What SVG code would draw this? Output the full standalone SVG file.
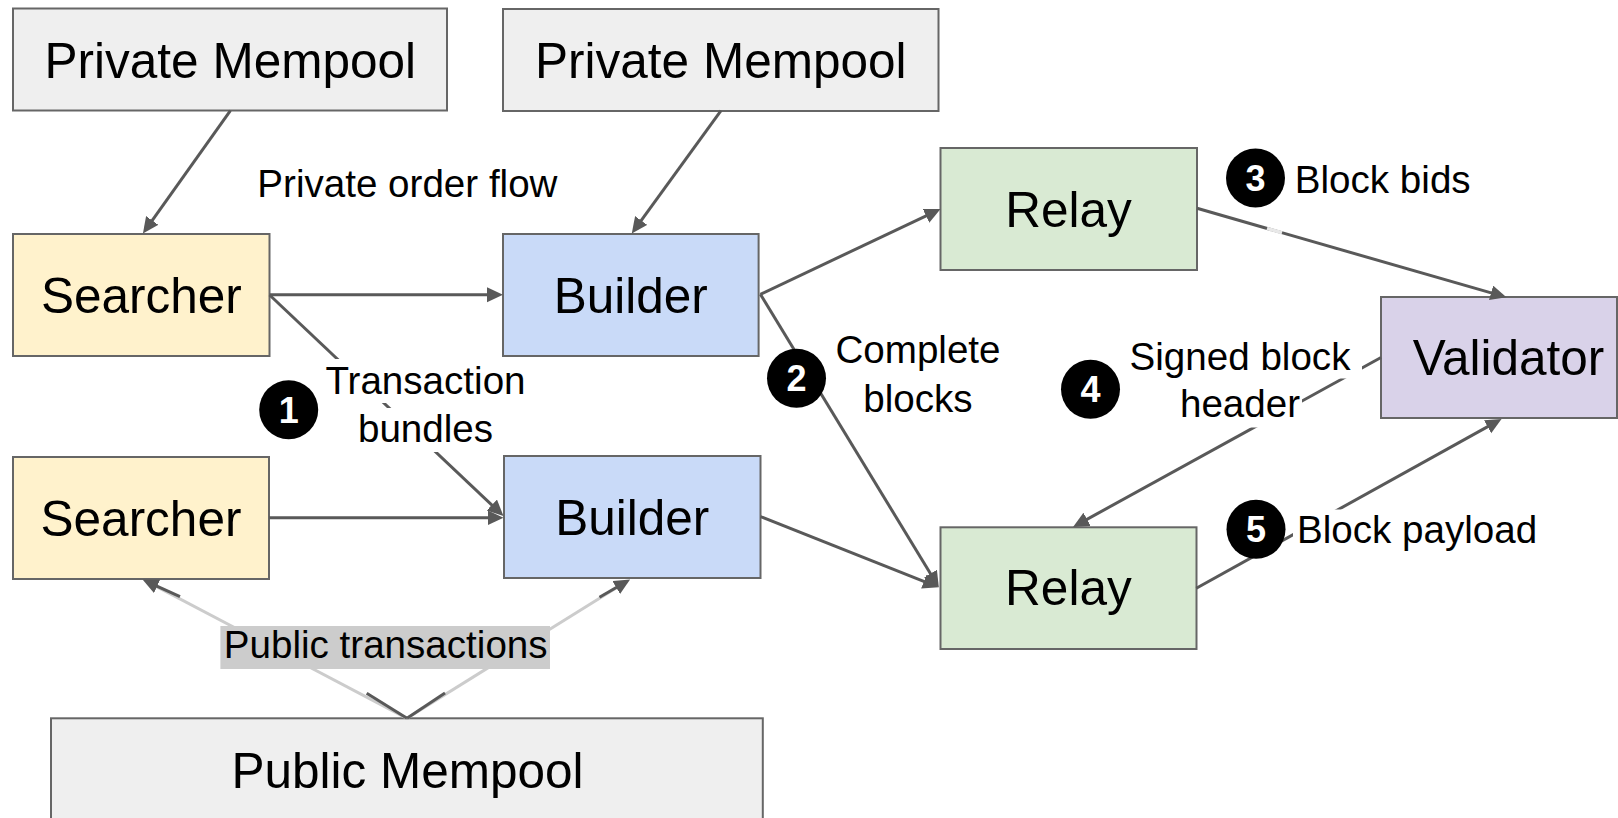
<svg xmlns="http://www.w3.org/2000/svg" width="1618" height="818" viewBox="0 0 1618 818">
  <style>
    .box { stroke: #666666; stroke-width: 2; }
    .mempool { fill: #efefef; }
    .searcher { fill: #fff2cc; }
    .builder { fill: #c9daf8; }
    .relay { fill: #d9ead3; }
    .validator { fill: #d9d2e9; }
    .title { font-family: "Liberation Sans", Arial, sans-serif; font-size: 49.5px; fill: #000000; text-anchor: middle; }
    .label { font-family: "Liberation Sans", Arial, sans-serif; font-size: 38.6px; fill: #000000; }
    .mid { text-anchor: middle; }
    .edge { fill: none; stroke: #595959; stroke-width: 3; }
    .faint { fill: none; stroke: #cccccc; stroke-width: 3; }
    .bg { fill: #ffffff; }
    .badge { fill: #000000; }
    .num { font-family: "Liberation Sans", Arial, sans-serif; font-size: 36px; font-weight: bold; fill: #ffffff; text-anchor: middle; }
  </style>
  <defs>
    <marker id="arrow" markerUnits="userSpaceOnUse" markerWidth="17" markerHeight="16" refX="10" refY="7.5" orient="auto">
      <path d="M0,0 L16,7.5 L0,15 z" fill="#595959"/>
    </marker>
  </defs>

  <rect width="1618" height="818" fill="#ffffff"/>

  <!-- nodes -->
  <g id="private-mempool-1">
    <rect class="box mempool" x="13" y="8.5" width="434" height="102"/>
    <text class="title" x="230.3" y="78.3">Private Mempool</text>
  </g>
  <g id="private-mempool-2">
    <rect class="box mempool" x="503" y="9" width="435.5" height="102"/>
    <text class="title" x="720.8" y="78.3">Private Mempool</text>
  </g>
  <g id="searcher-1">
    <rect class="box searcher" x="13" y="234" width="256.5" height="122"/>
    <text class="title" x="141.4" y="313.3">Searcher</text>
  </g>
  <g id="builder-1">
    <rect class="box builder" x="503" y="234" width="255.6" height="122"/>
    <text class="title" x="630.8" y="313.3">Builder</text>
  </g>
  <g id="searcher-2">
    <rect class="box searcher" x="13" y="457" width="256" height="122"/>
    <text class="title" x="141" y="535.5">Searcher</text>
  </g>
  <g id="builder-2">
    <rect class="box builder" x="504" y="456" width="256.5" height="122"/>
    <text class="title" x="632.3" y="535.3">Builder</text>
  </g>
  <g id="relay-1">
    <rect class="box relay" x="940.5" y="148" width="256.5" height="122"/>
    <text class="title" x="1068.5" y="227.3">Relay</text>
  </g>
  <g id="relay-2">
    <rect class="box relay" x="940.5" y="527.3" width="256" height="121.7"/>
    <text class="title" x="1068.4" y="605">Relay</text>
  </g>
  <g id="validator">
    <rect class="box validator" x="1381" y="297" width="236" height="121"/>
    <text class="title" x="1508.5" y="375">Validator</text>
  </g>
  <g id="public-mempool">
    <rect class="box mempool" x="51" y="718.3" width="711.8" height="102"/>
    <text class="title" x="407.5" y="787.7">Public Mempool</text>
  </g>

  <!-- connectors -->
  <g id="connectors">
    <line class="edge" x1="230.4" y1="110.7" x2="146.4" y2="228.6" marker-end="url(#arrow)"/>
    <line class="edge" x1="721" y1="110.7" x2="635.3" y2="228.6" marker-end="url(#arrow)"/>
    <line class="edge" x1="269.6" y1="294.7" x2="497" y2="294.7" marker-end="url(#arrow)"/>
    <line class="edge" x1="269.6" y1="295" x2="499.1" y2="511.9" marker-end="url(#arrow)"/>
    <line class="edge" x1="269" y1="517.7" x2="497.5" y2="517.7" marker-end="url(#arrow)"/>
    <line class="edge" x1="760.4" y1="294.3" x2="935.1" y2="211.6" marker-end="url(#arrow)"/>
    <line class="edge" x1="760.4" y1="294.3" x2="935.7" y2="582.2" marker-end="url(#arrow)"/>
    <line class="edge" x1="760.7" y1="516.7" x2="933.2" y2="585.1" marker-end="url(#arrow)"/>
    <line class="edge" x1="1197" y1="208.3" x2="1500.7" y2="295.6" marker-end="url(#arrow)"/>
    <line x1="1267" y1="228.4" x2="1282" y2="232.7" stroke="#e8e8e8" stroke-width="3.5"/>
    <line class="edge" x1="1381" y1="357.5" x2="1078.3" y2="524.1" marker-end="url(#arrow)"/>
    <line class="edge" x1="1196.3" y1="588.3" x2="1496.3" y2="421.9" marker-end="url(#arrow)"/>
    <!-- public transactions: pale middle, dark ends -->
    <line class="faint" x1="407" y1="718.3" x2="148" y2="582.1"/>
    <line class="faint" x1="407" y1="718.3" x2="624.9" y2="582.5"/>
    <line class="edge" x1="407" y1="718.3" x2="366.7" y2="693.3"/>
    <line class="edge" x1="407" y1="718.3" x2="445" y2="693"/>
    <line class="edge" x1="180" y1="596.7" x2="148" y2="582.1" marker-end="url(#arrow)"/>
    <line class="edge" x1="599.5" y1="597.3" x2="624.9" y2="582.5" marker-end="url(#arrow)"/>
  </g>

  <!-- labels -->
  <g id="labels">
    <text class="label mid" x="407.4" y="197">Private order flow</text>

    <rect class="bg" x="322" y="359" width="208" height="44"/>
    <rect class="bg" x="352" y="408" width="145" height="44"/>
    <text class="label mid" x="425.5" y="394.3">Transaction</text>
    <text class="label mid" x="425.5" y="441.7">bundles</text>

    <text class="label mid" x="918" y="363.3">Complete</text>
    <text class="label mid" x="918" y="411.7">blocks</text>

    <text class="label" x="1294.8" y="193.3">Block bids</text>

    <rect class="bg" x="1125" y="334" width="237" height="44.5"/>
    <rect class="bg" x="1176" y="384" width="126" height="43.5"/>
    <text class="label mid" x="1240" y="370">Signed block</text>
    <text class="label mid" x="1240" y="417.3">header</text>

    <rect class="bg" x="1293" y="509.5" width="248" height="43.5"/>
    <text class="label" x="1297" y="543.3">Block payload</text>

    <rect x="220.4" y="626" width="329.6" height="43" fill="#cccccc"/>
    <text class="label mid" x="385.7" y="657.7">Public transactions</text>
  </g>

  <!-- step badges -->
  <g id="badge-1">
    <circle class="badge" cx="288.7" cy="409.7" r="29.5"/>
    <text class="num" x="288.7" y="422.7">1</text>
  </g>
  <g id="badge-2">
    <circle class="badge" cx="796.5" cy="378.3" r="29.5"/>
    <text class="num" x="796.5" y="391.3">2</text>
  </g>
  <g id="badge-3">
    <circle class="badge" cx="1255.5" cy="178" r="29.5"/>
    <text class="num" x="1255.5" y="191">3</text>
  </g>
  <g id="badge-4">
    <circle class="badge" cx="1090.5" cy="389.3" r="29.5"/>
    <text class="num" x="1090.5" y="402.3">4</text>
  </g>
  <g id="badge-5">
    <circle class="badge" cx="1256" cy="529.3" r="29.5"/>
    <text class="num" x="1256" y="542.3">5</text>
  </g>
</svg>
